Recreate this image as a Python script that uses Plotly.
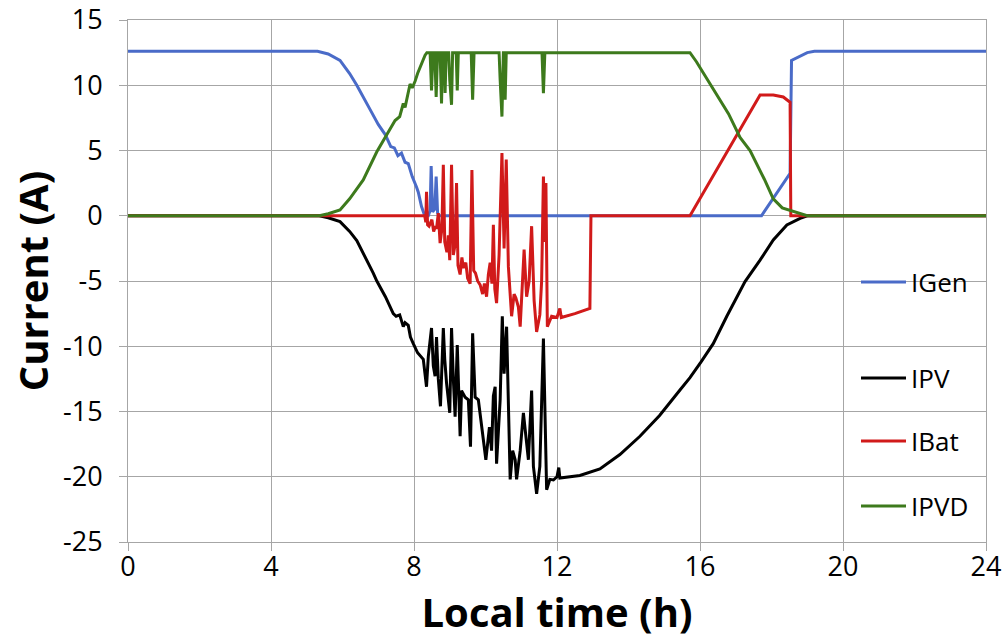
import plotly.graph_objects as go

# ---------------- data ----------------
t_gen = [0, 5.3, 5.6, 5.93, 6.2, 6.4, 6.8, 7.0, 7.2, 7.35, 7.45, 7.55, 7.65, 7.75, 7.84, 7.95,
         8.07, 8.12, 8.21, 8.3, 8.4, 8.45, 8.48, 8.52, 8.58, 8.62, 8.66, 8.7, 17.72, 18.52,
         18.56, 18.7, 18.85, 19.0, 19.2, 24]
i_gen = [12.6, 12.6, 12.4, 11.9, 10.9, 10.0, 8.0, 7.0, 6.2, 5.3, 5.2, 4.6, 4.8, 4.1, 4.0, 3.0,
         2.2, 1.8, 0.7, 0.0, 0.0, 0.4, 3.8, 0.3, 0.5, 3.0, 0.2, 0.0, 0.0, 3.25,
         11.9, 12.1, 12.3, 12.5, 12.6, 12.6]

t_pv = [0, 5.35, 5.6, 5.93, 6.2, 6.4, 6.86, 6.96, 7.2, 7.42, 7.5, 7.6, 7.7, 7.75, 7.84, 7.9,
        7.98, 8.1, 8.26, 8.35, 8.4, 8.49, 8.54, 8.59, 8.63, 8.68, 8.74, 8.82, 8.86, 8.91,
        9.0, 9.05, 9.1, 9.15, 9.21, 9.25, 9.29, 9.33, 9.43, 9.52, 9.58, 9.64, 9.68, 9.71,
        9.8, 9.89, 9.95, 10.01, 10.11, 10.17, 10.22, 10.27, 10.31, 10.41, 10.47, 10.52,
        10.59, 10.64, 10.69, 10.76, 10.83, 10.87, 10.97, 11.06, 11.13, 11.2, 11.29, 11.34,
        11.43, 11.52, 11.62, 11.71, 11.8, 11.9, 12.0, 12.05, 12.08, 12.64, 13.2, 13.76,
        14.32, 14.87, 15.44, 15.72, 16.03, 16.37, 16.75, 17.26, 17.68, 18.05, 18.43, 18.8,
        19.0, 24]
i_pv = [0, 0, -0.15, -0.45, -1.2, -1.9, -4.4, -5.0, -6.2, -7.5, -7.7, -7.6, -8.5, -8.2, -8.4, -9.3,
        -9.8, -10.5, -11.0, -13.1, -10.8, -8.6, -11.5, -12.3, -9.3, -12.5, -14.6, -8.6, -11.0, -12.8,
        -15.1, -8.6, -12.5, -15.4, -9.9, -13.5, -16.9, -13.4, -13.9, -14.1, -17.7, -9.0, -12.0, -13.9,
        -14.1, -16.2, -17.5, -18.7, -16.2, -18.0, -13.8, -13.1, -19.0, -14.1, -7.7, -12.1,
        -8.5, -14.9, -20.2, -18.0, -18.7, -20.2, -18.0, -15.1, -17.2, -18.7, -13.4, -19.2,
        -21.3, -19.2, -9.4, -21.0, -20.2, -20.25, -20.0, -19.3, -20.1, -19.9, -19.4, -18.3,
        -16.9, -15.3, -13.35, -12.4, -11.2, -9.8, -7.7, -5.05, -3.4, -1.86, -0.7, -0.2,
        0, 0]

t_bat = [0, 8.3, 8.33, 8.35, 8.38, 8.42, 8.5, 8.55, 8.6, 8.63, 8.68, 8.73, 8.78, 8.82, 8.86,
         8.92, 8.96, 9.0, 9.05, 9.1, 9.15, 9.19, 9.23, 9.29, 9.34, 9.38, 9.45, 9.5, 9.57,
         9.62, 9.67, 9.72, 9.78, 9.85, 9.92, 9.97, 10.03, 10.08, 10.13, 10.18, 10.22, 10.26,
         10.31, 10.38, 10.46, 10.52, 10.58, 10.64, 10.73, 10.8, 10.85, 10.92, 10.97, 11.03,
         11.08, 11.15, 11.22, 11.29, 11.36, 11.43, 11.52, 11.57, 11.62, 11.66, 11.69, 11.73,
         11.85, 12.0, 12.08, 12.12, 12.5, 12.92, 12.95, 15.72, 17.68, 18.05, 18.33, 18.52,
         18.54, 24]
i_bat = [0, 0, -0.5, 1.84, -0.7, -0.8, -0.3, -1.2, -0.8, -1.0, 0.2, -2.1, -1.0, 3.9, -2.0,
         -2.8, -1.5, -3.4, 3.9, -3.0, -2.2, 2.5, -3.8, -4.5, -3.2, -4.0, -3.6, -4.8, -5.2,
         3.5, -4.2, -4.4, -5.0, -5.3, -6.0, -5.2, -6.2, -4.5, -3.6, -5.2, -0.7, -5.6,
         -6.7, -3.0, 4.8, -2.5, 4.3, -3.9, -7.7, -6.0, -6.3, -7.0, -8.5, -5.5,
         -2.6, -6.2, -5.0, -0.8, -6.5, -8.9, -7.6, -5.0, 3.0, -2.0, 2.5, -8.5,
         -7.7, -7.8, -7.1, -7.8, -7.5, -7.1, 0, 0, 9.25, 9.25, 9.1, 8.7,
         0, 0]

t_pvd = [0, 5.35, 5.6, 5.93, 6.2, 6.58, 6.96, 7.2, 7.47, 7.6, 7.7, 7.75, 7.89, 7.95, 8.03,
         8.1, 8.17, 8.31, 8.36, 8.45, 8.49, 8.53, 8.58, 8.62, 8.66, 8.73, 8.77, 8.8, 8.85,
         8.87, 8.9, 8.97, 9.0, 9.05, 9.08, 9.18, 9.21, 9.24, 9.6, 9.64, 9.68, 10.38, 10.41,
         10.46, 10.5, 10.52, 10.55, 10.58, 11.58, 11.62, 11.66, 15.72, 15.9, 16.3, 16.8,
         17.12, 17.4, 17.8, 18.05, 18.3, 18.55, 18.8, 19.0, 24]
i_pvd = [0, 0, 0.15, 0.45, 1.3, 2.75, 4.9, 6.0, 7.3, 7.6, 8.6, 8.3, 10.1, 9.8, 10.3,
         10.9, 11.4, 12.3, 12.5, 12.5, 9.6, 12.5, 12.5, 9.1, 12.5, 12.5, 8.6, 12.5, 12.5,
         9.4, 12.5, 12.5, 10.4, 8.5, 12.5, 12.5, 9.6, 12.5, 12.5, 8.9, 12.5, 12.5, 10.4,
         7.6, 12.5, 12.5, 8.9, 12.5, 12.5, 9.4, 12.5, 12.5, 11.8, 10.0, 7.8,
         6.0, 5.0, 2.8, 1.3, 0.6, 0.4, 0.15, 0.0, 0.0]

series_names = ["IGen", "IPV", "IBat", "IPVD"]
x_ticks = [0, 4, 8, 12, 16, 20, 24]
y_ticks = [-25, -20, -15, -10, -5, 0, 5, 10, 15]

# ---------------- figure ----------------
colors = ["#4a6bc8", "#000000", "#d11a1a", "#3d7a1c"]
xs = [t_gen, t_pv, t_bat, t_pvd]
ys = [i_gen, i_pv, i_bat, i_pvd]
legend_ids = ["legend", "legend2", "legend3", "legend4"]

fig = go.Figure()
for name, x, y, c, lg in zip(series_names, xs, ys, colors, legend_ids):
    fig.add_trace(go.Scatter(x=x, y=y, mode="lines", name=name, legend=lg,
                             showlegend=True, line=dict(color=c, width=3)))

W, H = 1004, 641
ml, mr, mt, mb = 128, 18, 20, 99
pw, ph = W - ml - mr, H - mt - mb

def px2paper(px, py):
    return (px - ml) / pw, (H - mb - py) / ph

leg_font = dict(family="Open Sans", size=26, color="#000000")
leg_y_px = [282, 378, 441, 506]
legends = {}
for lg, ypx in zip(legend_ids, leg_y_px):
    lx, ly = px2paper(856, ypx)
    legends[lg] = dict(x=lx, y=ly, xanchor="left", yanchor="middle",
                       bgcolor="rgba(0,0,0,0)", borderwidth=0, font=leg_font,
                       itemwidth=45, visible=True)

grid_c = "#a6a6a6"
fig.update_layout(
    width=W, height=H,
    showlegend=True,
    margin=dict(l=ml, r=mr, t=mt, b=mb, pad=0, autoexpand=False),
    paper_bgcolor="white", plot_bgcolor="white",
    font=dict(family="Open Sans", color="#000000"),
    xaxis=dict(range=[0, 24], tickvals=x_ticks, ticktext=[str(v) for v in x_ticks],
               showgrid=True, gridcolor=grid_c, gridwidth=1,
               showline=True, linecolor=grid_c, linewidth=1,
               ticks="outside", ticklen=8, tickcolor=grid_c,
               ticklabelstandoff=-7,
               tickfont=dict(family="Open Sans", size=27, color="#000000"),
               zeroline=False, automargin=False,
               title=dict(text="<b>Local time (h)</b>", standoff=4,
                          font=dict(family="Open Sans", size=40, color="#000000"))),
    yaxis=dict(range=[-25, 15], tickvals=y_ticks, ticktext=[str(v) for v in y_ticks],
               showgrid=True, gridcolor=grid_c, gridwidth=1,
               showline=True, linecolor=grid_c, linewidth=1,
               ticks="outside", ticklen=8, tickcolor=grid_c,
               ticklabelstandoff=11,
               tickfont=dict(family="Open Sans", size=27, color="#000000"),
               zeroline=False, automargin=False,
               title=dict(text="<b>Current (A)</b>", standoff=2,
                          font=dict(family="Open Sans", size=40, color="#000000"))),
    **legends,
)
fig.update_xaxes(mirror=True)
fig.update_yaxes(mirror=True)

fig.write_html("out.html")
